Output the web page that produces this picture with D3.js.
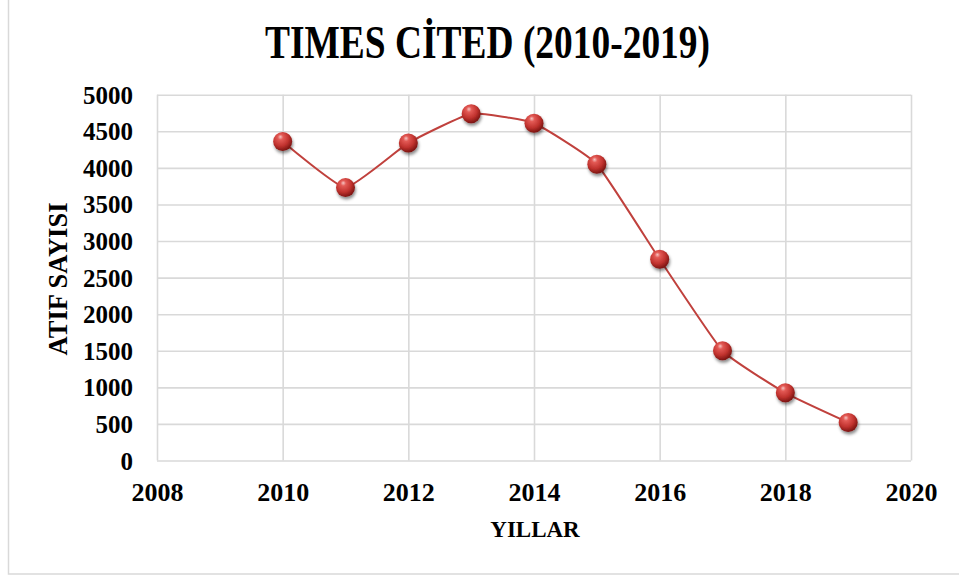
<!DOCTYPE html>
<html>
<head>
<meta charset="utf-8">
<script src="https://cdn.jsdelivr.net/npm/d3@7"></script>
<style>
  body { margin: 0; background: #fff; }
  text { font-family: "Liberation Serif", "Times New Roman", serif; font-weight: bold; fill: #000; }
</style>
</head>
<body>
<div id="chart"></div>
<script>
var years = [2010, 2011, 2012, 2013, 2014, 2015, 2016, 2017, 2018, 2019];
var cited = [4360, 3730, 4340, 4740, 4610, 4050, 2750, 1500, 925, 520];
var xTicks = [2008, 2010, 2012, 2014, 2016, 2018, 2020];
var yTicks = [0, 500, 1000, 1500, 2000, 2500, 3000, 3500, 4000, 4500, 5000];

var W = 959, H = 579;
var plotLeft = 157, plotRight = 911, plotTop = 94.7, plotBottom = 460.5;

var svg = d3.select("#chart").append("svg")
  .attr("width", W)
  .attr("height", H);

var defs = svg.append("defs");
var grad = defs.append("radialGradient")
  .attr("id", "ball")
  .attr("cx", "40%").attr("cy", "35%").attr("r", "65%")
  .attr("fx", "38%").attr("fy", "25%");
grad.append("stop").attr("offset", "0%").attr("stop-color", "#f6c4c2");
grad.append("stop").attr("offset", "22%").attr("stop-color", "#e35a55");
grad.append("stop").attr("offset", "65%").attr("stop-color", "#c0322e");
grad.append("stop").attr("offset", "100%").attr("stop-color", "#7c1512");

var shadow = defs.append("filter").attr("id", "shadow")
  .attr("x", "-50%").attr("y", "-50%").attr("width", "200%").attr("height", "200%");
shadow.append("feDropShadow")
  .attr("dx", 1).attr("dy", 2.5).attr("stdDeviation", 1.6)
  .attr("flood-color", "#000").attr("flood-opacity", 0.45);

// chart area border
svg.append("rect")
  .attr("x", 8.5).attr("y", -10)
  .attr("width", 1000).attr("height", 584)
  .attr("fill", "#fff")
  .attr("stroke", "#d9d9d9")
  .attr("stroke-width", 1.5);

var x = d3.scaleLinear().domain([2008, 2020]).range([plotLeft, plotRight]);
var y = d3.scaleLinear().domain([0, 5000]).range([plotBottom, plotTop]);

// grid
svg.append("g")
  .attr("class", "ygrid")
  .attr("transform", "translate(" + plotLeft + ",0)")
  .call(d3.axisLeft(y).tickValues(yTicks).tickSize(-(plotRight - plotLeft)).tickFormat(""))
  .call(function(g) { g.select(".domain").remove(); })
  .selectAll("line")
  .attr("stroke", "#d9d9d9").attr("stroke-width", 1.6);

svg.append("g")
  .attr("class", "xgrid")
  .attr("transform", "translate(0," + plotBottom + ")")
  .call(d3.axisBottom(x).tickValues(xTicks).tickSize(-(plotBottom - plotTop)).tickFormat(""))
  .call(function(g) { g.select(".domain").remove(); })
  .selectAll("line")
  .attr("stroke", "#d9d9d9").attr("stroke-width", 1.6);

// tick labels
var yaxis = svg.append("g")
  .attr("transform", "translate(" + (plotLeft - 24) + ",0)")
  .call(d3.axisLeft(y).tickValues(yTicks).tickSize(0).tickPadding(0).tickFormat(d3.format("d")));
yaxis.select(".domain").remove();
yaxis.selectAll("text")
  .attr("font-size", "25px")
  .attr("font-family", "Liberation Serif, Times New Roman, serif")
  .attr("font-weight", "bold")
  .attr("fill", "#000")
  .attr("dy", "0.34em");

var xaxis = svg.append("g")
  .attr("transform", "translate(0," + (plotBottom + 40) + ")")
  .call(d3.axisBottom(x).tickValues(xTicks).tickSize(0).tickPadding(0).tickFormat(d3.format("d")));
xaxis.select(".domain").remove();
xaxis.selectAll("text")
  .attr("font-size", "26px")
  .attr("font-family", "Liberation Serif, Times New Roman, serif")
  .attr("font-weight", "bold")
  .attr("fill", "#000")
  .attr("dy", 0);

// titles
svg.append("text")
  .text("TIMES CİTED (2010-2019)")
  .attr("x", 487.5)
  .attr("y", 58)
  .attr("text-anchor", "middle")
  .attr("font-size", "47px")
  .attr("textLength", 445)
  .attr("lengthAdjust", "spacingAndGlyphs");

svg.append("text")
  .text("YILLAR")
  .attr("x", 535)
  .attr("y", 537)
  .attr("text-anchor", "middle")
  .attr("font-size", "23px");

svg.append("text")
  .text("ATIF SAYISI")
  .attr("transform", "translate(67,279) rotate(-90)")
  .attr("text-anchor", "middle")
  .attr("font-size", "26.5px");

// series
var points = years.map(function(d, i) { return { year: d, value: cited[i] }; });

var line = d3.line()
  .x(function(d) { return x(d.year); })
  .y(function(d) { return y(d.value); })
  .curve(d3.curveCardinal.tension(0.6));

svg.append("path")
  .datum(points)
  .attr("d", line)
  .attr("fill", "none")
  .attr("stroke", "#c0413d")
  .attr("stroke-width", 2);

svg.selectAll("circle.pt")
  .data(points)
  .enter()
  .append("circle")
  .attr("class", "pt")
  .attr("cx", function(d) { return x(d.year); })
  .attr("cy", function(d) { return y(d.value); })
  .attr("r", 9.5)
  .attr("fill", "url(#ball)")
  .attr("filter", "url(#shadow)");
</script>
</body>
</html>
